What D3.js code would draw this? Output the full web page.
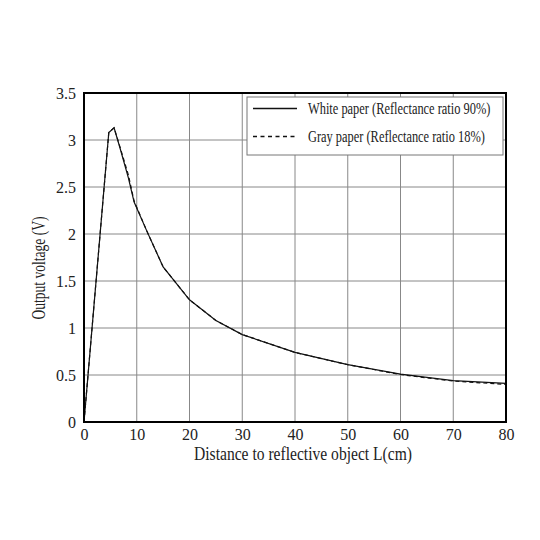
<!DOCTYPE html>
<html><head><meta charset="utf-8">
<script src="https://cdn.jsdelivr.net/npm/d3@7"></script>
<style>body{margin:0;background:#fff}svg{display:block}</style>
</head><body>
<svg id="c" width="540" height="540"></svg>
<script>
const xTicks = [0,10,20,30,40,50,60,70,80];
const yTicks = [0,0.5,1,1.5,2,2.5,3,3.5];
const whiteDist = [0,4.7,5.7,6.8,8.4,9.5,12,15,20,25,30,40,50,60,70,80];
const whiteVolt = [0,3.08,3.13,2.92,2.6,2.34,2.02,1.65,1.30,1.08,0.93,0.74,0.61,0.51,0.44,0.41];
const grayDist  = [0,4.7,5.7,6.8,8.4,9.5,12,15,20,25,30,40,50,60,70,80];
const grayVolt  = [0,3.08,3.13,2.93,2.63,2.35,2.02,1.65,1.30,1.08,0.93,0.74,0.61,0.505,0.435,0.40];
const seriesNames = ["White paper (Reflectance ratio 90%)","Gray paper (Reflectance ratio 18%)"];
const xTitle = "Distance to reflective object L(cm)";
const yTitle = "Output voltage (V)";

const svg = d3.select("#c");
const L=84, R=506, T=93, B=422;
const x = d3.scaleLinear().domain([0,80]).range([L,R]);
const y = d3.scaleLinear().domain([0,3.5]).range([B,T]);
const font = "'Liberation Serif','Times New Roman',serif";

// grid
svg.append("g").selectAll("line").data(xTicks.slice(1,-1)).join("line")
  .attr("x1",d=>x(d)).attr("x2",d=>x(d)).attr("y1",T).attr("y2",B)
  .attr("stroke","#888").attr("stroke-width",1);
svg.append("g").selectAll("line").data(yTicks.slice(1,-1)).join("line")
  .attr("y1",d=>y(d)).attr("y2",d=>y(d)).attr("x1",L).attr("x2",R)
  .attr("stroke","#888").attr("stroke-width",1);

// axes labels via d3 axes (no tick lines)
const xa = svg.append("g").attr("transform",`translate(0,${B})`)
  .call(d3.axisBottom(x).tickValues(xTicks).tickSize(0).tickPadding(7).tickFormat(d3.format("d")));
const ya = svg.append("g").attr("transform",`translate(${L},0)`)
  .call(d3.axisLeft(y).tickValues(yTicks).tickSize(0).tickPadding(8).tickFormat(d=>String(d)));
[xa,ya].forEach(a=>{a.select(".domain").remove();
  a.selectAll("text").attr("font-family",font).attr("font-size",16).attr("fill","#222");});

// lines
const line = d3.line().x(d=>x(d[0])).y(d=>y(d[1]));
const grayData = grayDist.map((d,i)=>[d,grayVolt[i]]);
const whiteData = whiteDist.map((d,i)=>[d,whiteVolt[i]]);
svg.append("path").datum(grayData).attr("d",line).attr("fill","none")
  .attr("stroke","#111").attr("stroke-width",1.2).attr("stroke-dasharray","4,3");
svg.append("path").datum(whiteData).attr("d",line).attr("fill","none")
  .attr("stroke","#111").attr("stroke-width",1.2);

// frame
svg.append("rect").attr("x",L).attr("y",T).attr("width",R-L).attr("height",B-T)
  .attr("fill","none").attr("stroke","#000").attr("stroke-width",2);

// legend
const lg = svg.append("g");
lg.append("rect").attr("x",247).attr("y",97).attr("width",256).attr("height",58)
  .attr("fill","#fff").attr("stroke","#777").attr("stroke-width",1);
const lgY = [108.5,136.5];
lg.selectAll("line.s").data(seriesNames).join("line")
  .attr("x1",253).attr("x2",297).attr("y1",(d,i)=>lgY[i]).attr("y2",(d,i)=>lgY[i])
  .attr("stroke","#111").attr("stroke-width",1.4)
  .attr("stroke-dasharray",(d,i)=>i?"4,3.5":null);
lg.selectAll("g.t").data(seriesNames).join("g")
  .attr("transform",(d,i)=>`translate(308,${lgY[i]+5}) scale(1,1.28)`)
  .append("text").text(d=>d)
  .attr("font-family",font).attr("font-size",12.4).attr("fill","#222");

// titles
svg.append("text").attr("x",303).attr("y",460).attr("text-anchor","middle")
  .attr("font-family",font).attr("font-size",18.5).attr("fill","#222")
  .attr("textLength",218).attr("lengthAdjust","spacingAndGlyphs").text(xTitle);
svg.append("text").attr("transform","translate(45,268) rotate(-90)").attr("text-anchor","middle")
  .attr("font-family",font).attr("font-size",19).attr("fill","#222")
  .attr("textLength",103).attr("lengthAdjust","spacingAndGlyphs").text(yTitle);
</script>
</body></html>
